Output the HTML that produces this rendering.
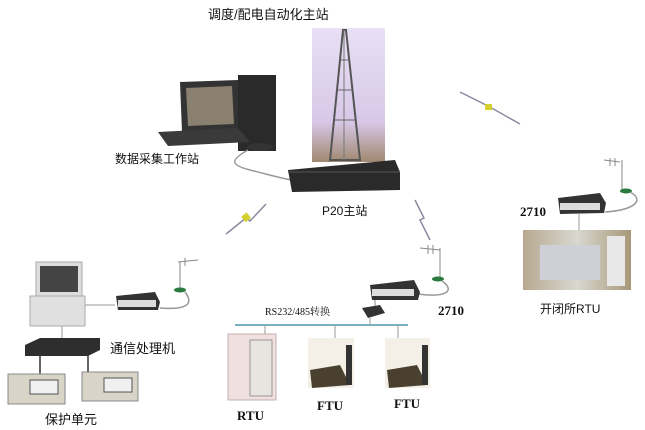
<!DOCTYPE html>
<html><head><meta charset="utf-8"><style>
html,body{margin:0;padding:0;background:#fff;width:645px;height:430px;overflow:hidden}
svg{display:block}
text{font-family:"Liberation Sans","Noto Sans CJK SC",sans-serif;fill:#111}
.b{font-family:"Liberation Serif","Noto Serif CJK SC",serif;font-weight:bold}
</style></head><body>
<svg width="645" height="430" viewBox="0 0 645 430">
<defs>
<linearGradient id="sky" x1="0" y1="0" x2="0" y2="1"><stop offset="0" stop-color="#e8e0f4"/><stop offset="0.7" stop-color="#d8c8e8"/><stop offset="1" stop-color="#a08870"/></linearGradient>
<linearGradient id="room" x1="0" y1="0" x2="1" y2="0"><stop offset="0" stop-color="#b8a890"/><stop offset="0.5" stop-color="#d8d8d0"/><stop offset="1" stop-color="#a89878"/></linearGradient>
</defs>
<text x="208" y="19" font-size="13">调度/配电自动化主站</text>
<!-- tower photo -->
<rect x="312" y="28" width="73" height="134" fill="url(#sky)"/>
<path d="M343 30 L346 30 L360 160 L330 160 Z" fill="none" stroke="#555" stroke-width="2"/>
<line x1="344" y1="30" x2="344" y2="160" stroke="#777"/>
<path d="M335 120 L355 120 M338 90 L352 90 M340 60 L349 60" stroke="#666"/>
<!-- computer -->
<path d="M180 82 L238 80 L240 130 L182 132 Z" fill="#333"/>
<path d="M186 88 L232 86 L234 124 L188 126 Z" fill="#8a8070"/>
<rect x="238" y="75" width="38" height="76" fill="#2a2a2a"/>
<path d="M158 132 L238 128 L250 142 L168 146 Z" fill="#3a3a3a"/>
<ellipse cx="260" cy="147" rx="13" ry="4" fill="#333"/>
<path d="M248 150 C230 160 230 165 250 170 C270 175 280 178 292 180" stroke="#999" stroke-width="1.5" fill="none"/>
<text x="115" y="163" font-size="12">数据采集工作站</text>
<!-- server -->
<path d="M288 170 L395 160 L400 172 L400 190 L292 192 Z" fill="#2a2a2a"/>
<line x1="288" y1="172" x2="400" y2="172" stroke="#555"/>
<text x="322" y="215" font-size="12">P20主站</text>
<!-- lightning bolts -->
<path d="M226 234 L246 218 L250 221 L266 204" stroke="#8a8aa0" stroke-width="1.5" fill="none"/>
<rect x="243" y="214" width="7" height="7" fill="#d4d030" transform="rotate(-40 246 218)"/>
<path d="M415 200 L424 218 L420 220 L430 240" stroke="#8a8aa0" stroke-width="1.5" fill="none"/>
<path d="M460 92 L488 106 L520 124" stroke="#8a8aa0" stroke-width="1.5" fill="none"/>
<rect x="485" y="104" width="7" height="6" fill="#d4d030"/>
<!-- right station -->
<path d="M604 160 L620 162 M610 158 L610 166 M615 158 L615 166" stroke="#888"/>
<line x1="622" y1="160" x2="622" y2="190" stroke="#888"/>
<ellipse cx="626" cy="191" rx="6" ry="2.5" fill="#2a7a40"/>
<path d="M630 192 C645 200 635 210 605 212" stroke="#999" stroke-width="1.5" fill="none"/>
<path d="M558 198 L600 193 L606 203 L604 213 L560 214 Z" fill="#333"/>
<rect x="560" y="203" width="40" height="7" fill="#ddd"/>
<line x1="579" y1="214" x2="579" y2="230" stroke="#999"/>
<text x="520" y="216" font-size="13" class="b">2710</text>
<rect x="523" y="230" width="108" height="60" fill="url(#room)"/>
<rect x="540" y="245" width="60" height="35" fill="#cfcfd8"/>
<rect x="607" y="236" width="18" height="50" fill="#e8e8e8"/>
<text x="540" y="313" font-size="12">开闭所RTU</text>
<!-- center -->
<path d="M420 248 L440 250 M428 245 L428 254 M433 245 L433 254" stroke="#888"/>
<line x1="440" y1="248" x2="440" y2="278" stroke="#888"/>
<ellipse cx="438" cy="279" rx="6" ry="2.5" fill="#2a7a40"/>
<path d="M442 281 C455 290 448 298 418 294" stroke="#999" stroke-width="1.5" fill="none"/>
<path d="M370 285 L414 280 L420 292 L418 300 L372 300 Z" fill="#333"/>
<rect x="372" y="289" width="42" height="7" fill="#ddd"/>
<path d="M362 308 L380 305 L385 313 L368 318 Z" fill="#333"/>
<line x1="375" y1="300" x2="375" y2="306" stroke="#888"/>
<text x="265" y="315" font-size="10" class="b" style="font-weight:normal">RS232/485转换</text>
<text x="438" y="315" font-size="13" class="b">2710</text>
<line x1="235" y1="325" x2="408" y2="325" stroke="#7ab0c0" stroke-width="2"/>
<line x1="265" y1="325" x2="265" y2="336" stroke="#999"/>
<line x1="335" y1="325" x2="335" y2="340" stroke="#999"/>
<line x1="398" y1="325" x2="398" y2="340" stroke="#999"/>
<line x1="370" y1="318" x2="370" y2="325" stroke="#999"/>
<rect x="228" y="334" width="48" height="66" fill="#f0e0e0" stroke="#c0b0b0"/>
<rect x="250" y="340" width="22" height="56" fill="#e8e4e0" stroke="#999"/>
<rect x="308" y="338" width="46" height="50" fill="#f4f0e8"/>
<path d="M310 370 L340 365 L350 385 L312 388 Z" fill="#4a4030"/>
<rect x="346" y="345" width="6" height="40" fill="#333"/>
<rect x="385" y="338" width="45" height="50" fill="#f4f0e8"/>
<path d="M387 370 L417 365 L427 385 L389 388 Z" fill="#4a4030"/>
<rect x="422" y="345" width="6" height="40" fill="#333"/>
<text x="237" y="420" font-size="13" class="b">RTU</text>
<text x="317" y="410" font-size="13" class="b">FTU</text>
<text x="394" y="408" font-size="13" class="b">FTU</text>
<!-- left station -->
<rect x="36" y="262" width="46" height="36" fill="#ddd" stroke="#aaa"/>
<rect x="40" y="266" width="38" height="26" fill="#444"/>
<rect x="30" y="296" width="55" height="30" fill="#e0e0e0" stroke="#aaa"/>
<line x1="85" y1="305" x2="115" y2="305" stroke="#999"/>
<path d="M116 296 L155 292 L160 302 L158 310 L118 310 Z" fill="#333"/>
<rect x="118" y="300" width="38" height="7" fill="#ddd"/>
<path d="M178 262 L198 260 M185 258 L185 266" stroke="#888"/>
<line x1="180" y1="262" x2="180" y2="288" stroke="#888"/>
<ellipse cx="180" cy="290" rx="6" ry="2.5" fill="#2a7a40"/>
<path d="M185 292 C195 305 185 310 160 308" stroke="#999" stroke-width="1.5" fill="none"/>
<line x1="62" y1="326" x2="62" y2="338" stroke="#999"/>
<path d="M25 345 L40 338 L100 338 L100 350 L88 356 L25 356 Z" fill="#2e2e2e"/>
<line x1="40" y1="355" x2="40" y2="375" stroke="#333" stroke-width="1.5"/>
<line x1="88" y1="355" x2="88" y2="375" stroke="#333" stroke-width="1.5"/>
<text x="110" y="353" font-size="13">通信处理机</text>
<rect x="8" y="374" width="57" height="30" fill="#d8d4c8" stroke="#888"/>
<rect x="30" y="380" width="28" height="14" fill="#f0f0f0" stroke="#555"/>
<rect x="82" y="372" width="56" height="29" fill="#d8d4c8" stroke="#888"/>
<rect x="104" y="378" width="28" height="14" fill="#f0f0f0" stroke="#555"/>
<text x="45" y="424" font-size="13">保护单元</text>
</svg>
</body></html>
